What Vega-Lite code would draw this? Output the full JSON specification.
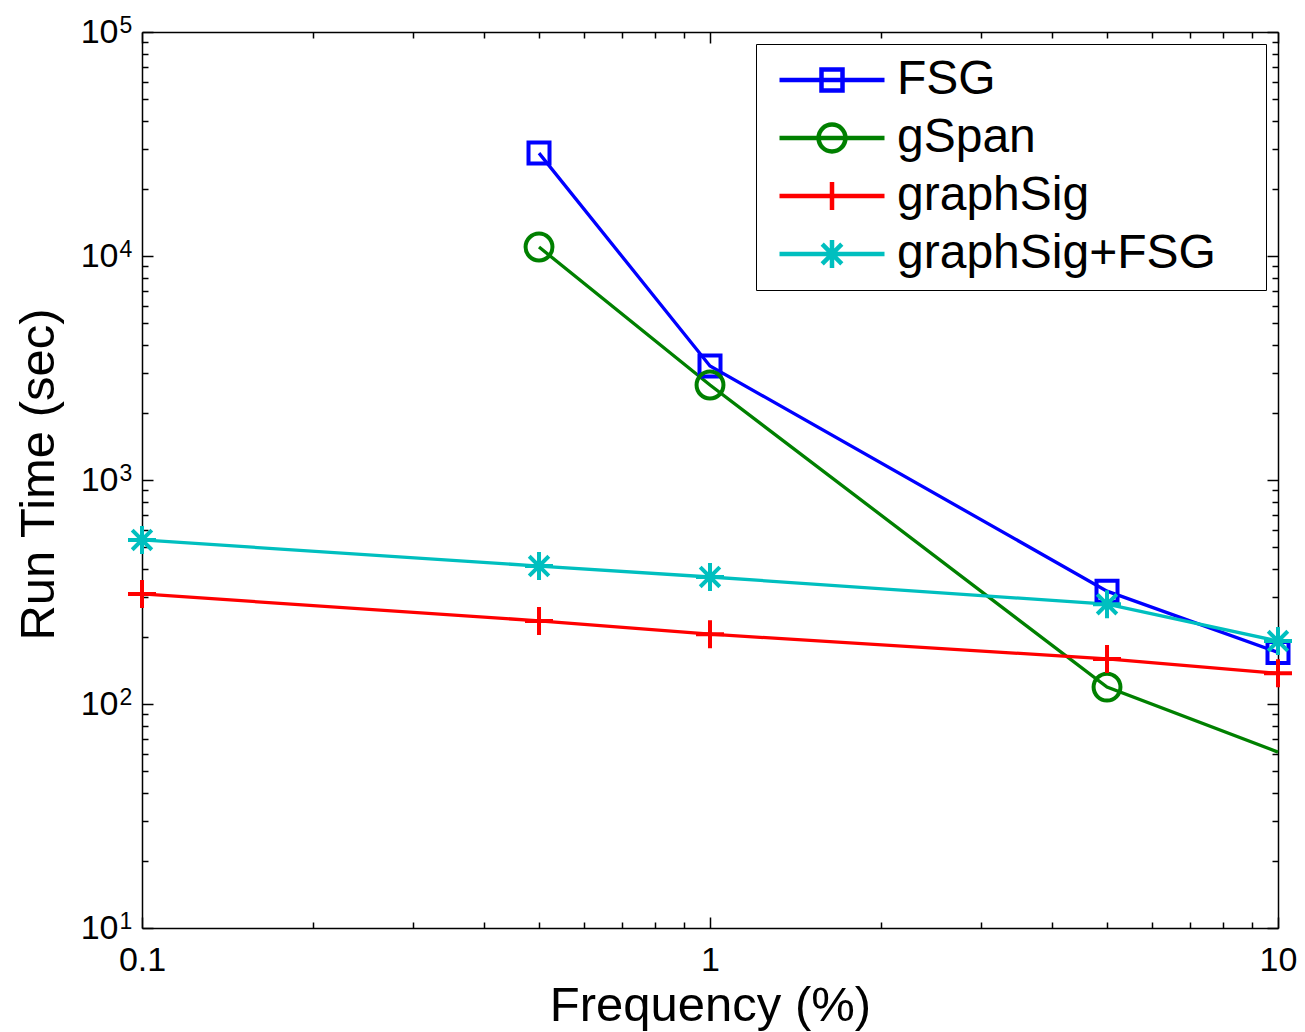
{
  "$schema": "https://vega.github.io/schema/vega-lite/v6.json",
  "width": 1136,
  "height": 896,
  "autosize": {"type": "none"},
  "padding": {"left": 142, "top": 32, "right": 27, "bottom": 104},
  "background": "white",
  "config": {
    "view": {"stroke": null},
    "font": "Liberation Sans",
    "axis": {
      "grid": false,
      "domainColor": "black",
      "domainWidth": 1.5,
      "tickColor": "black",
      "tickWidth": 1.5,
      "labelColor": "black",
      "labelFont": "Liberation Sans",
      "labelFontSize": 34,
      "labelFlush": false,
      "labelOverlap": false,
      "labelBound": false,
      "titleFont": "Liberation Sans",
      "titleFontSize": 49,
      "titleFontWeight": "normal",
      "titleColor": "black"
    }
  },
  "data": {
    "values": [
      {"series": "FSG", "freq": 0.5, "time": 28800},
      {"series": "FSG", "freq": 1, "time": 3230},
      {"series": "FSG", "freq": 5, "time": 319},
      {"series": "FSG", "freq": 10, "time": 170},
      {"series": "gSpan", "freq": 0.5, "time": 10970},
      {"series": "gSpan", "freq": 1, "time": 2655},
      {"series": "gSpan", "freq": 5, "time": 119},
      {"series": "gSpan", "freq": 10, "time": 61},
      {"series": "graphSig", "freq": 0.1, "time": 310},
      {"series": "graphSig", "freq": 0.5, "time": 235},
      {"series": "graphSig", "freq": 1, "time": 205},
      {"series": "graphSig", "freq": 5, "time": 159},
      {"series": "graphSig", "freq": 10, "time": 137},
      {"series": "graphSig+FSG", "freq": 0.1, "time": 540},
      {"series": "graphSig+FSG", "freq": 0.5, "time": 413},
      {"series": "graphSig+FSG", "freq": 1, "time": 369},
      {"series": "graphSig+FSG", "freq": 5, "time": 279},
      {"series": "graphSig+FSG", "freq": 10, "time": 191}
    ]
  },
  "layer": [
    {
      "mark": {"type": "line", "strokeWidth": 3.3},
      "encoding": {
        "x": {"field": "freq", "type": "quantitative", "scale": {"type": "log", "domain": [0.1, 10], "nice": false},
          "axis": {"orient": "bottom", "values": [0.1, 1, 10], "format": "~g", "ticks": false, "domain": true, "labelPadding": 15,
            "title": "Frequency (%)", "titleX": 568, "titleY": 92, "titleBaseline": "alphabetic", "titleAlign": "center"}},
        "y": {"field": "time", "type": "quantitative", "scale": {"type": "log", "domain": [10, 100000], "nice": false},
          "axis": {"orient": "left", "values": [10, 100, 1000, 10000, 100000], "labelExpr": "'10'", "ticks": false, "domain": true, "labelPadding": 24,
            "title": "Run Time (sec)", "titleX": -89, "titleY": 442, "titleAngle": 270, "titleBaseline": "alphabetic", "titleAlign": "center"}},
        "color": {"field": "series", "type": "nominal",
          "scale": {"domain": ["FSG", "gSpan", "graphSig", "graphSig+FSG"], "range": ["#0000FF", "#008000", "#FF0000", "#00BFBF"]},
          "legend": null}
      }
    },
    {
      "transform": [{"filter": "!(datum.series == 'gSpan' && datum.freq == 10)"}],
      "mark": {"type": "point", "filled": false, "size": 784, "strokeWidth": 4, "opacity": 1},
      "encoding": {
        "x": {"field": "freq", "type": "quantitative", "scale": {"type": "log", "domain": [0.1, 10], "nice": false},
          "axis": {"orient": "bottom", "values": [0.1, 1, 10], "labels": false, "domain": false, "tickSize": -11, "title": null}},
        "y": {"field": "time", "type": "quantitative", "scale": {"type": "log", "domain": [10, 100000], "nice": false},
          "axis": {"orient": "left", "values": [10, 100, 1000, 10000, 100000], "labels": false, "domain": false, "tickSize": -11, "title": null}},
        "color": {"field": "series", "type": "nominal",
          "scale": {"domain": ["FSG", "gSpan", "graphSig", "graphSig+FSG"], "range": ["#0000FF", "#008000", "#FF0000", "#00BFBF"]},
          "legend": null},
        "shape": {"field": "series", "type": "nominal",
          "scale": {"domain": ["FSG", "gSpan", "graphSig", "graphSig+FSG"],
            "range": [
              "M-0.75,-0.75H0.75V0.75H-0.75Z",
              "M0.96,0A0.96,0.96 0 1 1 -0.96,0A0.96,0.96 0 1 1 0.96,0",
              "M-1,0H1M0,-1V1",
              "M-1,0H1M0,-1V1M-0.7,-0.7L0.7,0.7M-0.7,0.7L0.7,-0.7"
            ]},
          "legend": null}
      }
    },
    {
      "transform": [{"filter": "false"}],
      "mark": {"type": "point", "filled": false, "size": 784, "strokeWidth": 4.5, "opacity": 1},
      "encoding": {
        "x": {"field": "freq", "type": "quantitative", "scale": {"type": "log", "domain": [0.1, 10], "nice": false},
          "axis": {"orient": "bottom", "values": [0.2, 0.3, 0.4, 0.5, 0.6, 0.7, 0.8, 0.9, 2, 3, 4, 5, 6, 7, 8, 9], "labels": false, "domain": false, "tickSize": -6, "title": null}},
        "y": {"field": "time", "type": "quantitative", "scale": {"type": "log", "domain": [10, 100000], "nice": false},
          "axis": {"orient": "left", "values": [20, 30, 40, 50, 60, 70, 80, 90, 200, 300, 400, 500, 600, 700, 800, 900, 2000, 3000, 4000, 5000, 6000, 7000, 8000, 9000, 20000, 30000, 40000, 50000, 60000, 70000, 80000, 90000], "labels": false, "domain": false, "tickSize": -6, "title": null}},
        "color": {"field": "series", "type": "nominal",
          "scale": {"domain": ["FSG", "gSpan", "graphSig", "graphSig+FSG"], "range": ["#0000FF", "#008000", "#FF0000", "#00BFBF"]},
          "legend": {"orient": "none", "legendX": 614, "legendY": 12, "direction": "vertical",
            "title": "\u00a0", "titleOrient": "right", "titlePadding": 38, "titleFontSize": 2, "titleColor": "white",
            "strokeColor": "black", "fillColor": "white", "padding": 12,
            "labelFont": "Liberation Sans", "labelFontSize": 48, "labelColor": "black", "labelLimit": 0,
            "symbolSize": 784, "symbolStrokeWidth": 4.5, "symbolFillColor": "transparent",
            "symbolOffset": 40, "labelOffset": 41, "rowPadding": 10}},
        "shape": {"field": "series", "type": "nominal",
          "scale": {"domain": ["FSG", "gSpan", "graphSig", "graphSig+FSG"],
            "range": [
              "M-3.75,0H3.75M-0.75,-0.75H0.75V0.75H-0.75Z",
              "M-3.75,0H3.75M0.96,0A0.96,0.96 0 1 1 -0.96,0A0.96,0.96 0 1 1 0.96,0",
              "M-3.75,0H3.75M0,-1V1",
              "M-3.75,0H3.75M0,-1V1M-0.7,-0.7L0.7,0.7M-0.7,0.7L0.7,-0.7"
            ]},
          "legend": {"orient": "none", "legendX": 614, "legendY": 12, "direction": "vertical",
            "title": "\u00a0", "titleOrient": "right", "titlePadding": 38, "titleFontSize": 2, "titleColor": "white",
            "strokeColor": "black", "fillColor": "white", "padding": 12,
            "labelFont": "Liberation Sans", "labelFontSize": 48, "labelColor": "black", "labelLimit": 0,
            "symbolSize": 784, "symbolStrokeWidth": 4.5, "symbolFillColor": "transparent",
            "symbolOffset": 40, "labelOffset": 41, "rowPadding": 10}}
      }
    },
    {
      "transform": [{"filter": "false"}],
      "mark": {"type": "point", "opacity": 0},
      "encoding": {
        "x": {"field": "freq", "type": "quantitative", "scale": {"type": "log", "domain": [0.1, 10], "nice": false},
          "axis": {"orient": "top", "values": [0.1, 1, 10], "labels": false, "domain": true, "tickSize": -11, "title": null}},
        "y": {"field": "time", "type": "quantitative", "scale": {"type": "log", "domain": [10, 100000], "nice": false},
          "axis": {"orient": "right", "values": [10, 100, 1000, 10000, 100000], "labels": false, "domain": true, "tickSize": -11, "title": null}}
      }
    },
    {
      "transform": [{"filter": "false"}],
      "mark": {"type": "point", "opacity": 0},
      "encoding": {
        "x": {"field": "freq", "type": "quantitative", "scale": {"type": "log", "domain": [0.1, 10], "nice": false},
          "axis": {"orient": "top", "values": [0.2, 0.3, 0.4, 0.5, 0.6, 0.7, 0.8, 0.9, 2, 3, 4, 5, 6, 7, 8, 9], "labels": false, "domain": false, "tickSize": -6, "title": null}},
        "y": {"field": "time", "type": "quantitative", "scale": {"type": "log", "domain": [10, 100000], "nice": false},
          "axis": {"orient": "right", "values": [20, 30, 40, 50, 60, 70, 80, 90, 200, 300, 400, 500, 600, 700, 800, 900, 2000, 3000, 4000, 5000, 6000, 7000, 8000, 9000, 20000, 30000, 40000, 50000, 60000, 70000, 80000, 90000], "labels": false, "domain": false, "tickSize": -6, "title": null}}
      }
    },
    {
      "transform": [{"filter": "false"}],
      "mark": {"type": "point", "opacity": 0},
      "encoding": {
        "x": {"field": "freq", "type": "quantitative", "scale": {"type": "log", "domain": [0.1, 10], "nice": false}, "axis": null},
        "y": {"field": "time", "type": "quantitative", "scale": {"type": "log", "domain": [10, 100000], "nice": false},
          "axis": {"orient": "left", "values": [10, 100, 1000, 10000, 100000], "labelExpr": "'' + round(log(datum.value) / LN10)",
            "ticks": false, "domain": false, "labelAlign": "left", "labelPadding": 23, "labelBaseline": "alphabetic", "labelDy": -8,
            "labelFontSize": 23, "title": null}}
      }
    }
  ],
  "resolve": {
    "scale": {"color": "independent", "shape": "independent"},
    "axis": {"x": "independent", "y": "independent"}
  }
}
